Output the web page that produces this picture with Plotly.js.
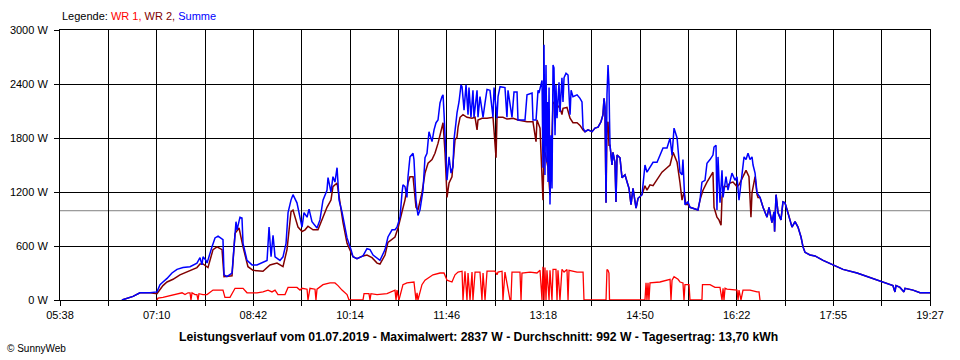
<!DOCTYPE html>
<html>
<head>
<meta charset="utf-8">
<script src="https://cdn.plot.ly/plotly-3.0.1.min.js"></script>
<style>html,body{margin:0;padding:0;background:#fff;}#chart{width:960px;height:360px;}</style>
</head>
<body>
<div id="chart"></div>
<script>
// Time axis: minutes since midnight. Tick labels (every second grid line is labelled).
const xTickLabels = ['05:38','07:10','08:42','10:14','11:46','13:18','14:50','16:22','17:55','19:27'];
const yTickValues = [0, 600, 1200, 1800, 2400, 3000];
const yTickLabels = ['0 W','600 W','1200 W','1800 W','2400 W','3000 W'];
const avgW = 992;   // Durchschnitt

// Summe (blue)
const sumT = [397,407.6,414.2,423.8,430.4,433.3,436.1,440.0,444.7,449.5,455.2,461.9,468.5,471.4,473.3,474.3,477.1,478.1,482.8,485.7,488.6,493.3,494.3,497.1,501.9,503.8,505.7,506.7,509.5,511.4,512.4,516.2,521.0,525.7,531.4,535.3,537.2,539.1,541.0,542.9,547.6,550.5,553.4,555.3,558.1,560.0,563.8,566.7,568.6,570.5,573.4,575.3,578.1,582.9,585.7,588.6,592.4,593.4,596.2,598.1,600.0,602.0,603.9,606.7,609.6,611.5,615.3,617.2,621.0,626.7,630.5,633.4,636.3,642.9,647.7,650.5,654.4,657.2,659.1,662.0,663.9,664.8,666.7,668.6,669.6,671.5,674.4,675.3,677.2,679.1,681.0,683.9,685.8,687.7,689.6,691.5,692.5,694.4,696.3,698.2,700.1,702.0,703.0,703.9,705.8,706.8,708.7,710.6,712.5,713.4,715.3,716.3,718.2,720.1,721.1,723.0,724.9,726.8,727.7,729.6,731.5,732.5,735.4,736.3,738.2,741.1,743.0,744.9,747.7,750.6,751.6,754.4,755.4,757.3,762.0,763.9,764.9,768.7,770.6,773.5,774.4,781.1,783.0,787.8,788.7,791.6,793.5,794.4,797.3,798.2,799.2,800.1,801.1,802.0,802.5,803.0,804.0,804.9,805.9,806.8,807.8,808.7,809.7,810.6,811.6,813.5,814.4,816.3,817.3,818.3,820.2,822.1,824.0,825.0,826.8,830.7,833.5,835.4,836.4,838.3,841.1,845.0,847.8,850.7,853.5,855.4,856.4,857.3,858.3,859.2,860.2,861.1,861.6,862.1,864.0,864.9,866.8,867.8,868.8,871.6,873.5,876.4,878.3,880.2,882.1,884.0,886.9,888.8,892.6,895.4,897.3,900.2,903.1,906.9,909.7,912.6,916.4,919.3,921.2,923.1,926.0,926.9,928.8,930.7,931.6,933.5,936.4,938.3,941.2,945.9,947.8,949.7,952.6,954.5,957.4,960.2,961.2,963.1,964.0,965.0,966.9,968.8,969.8,972.6,974.5,978.3,981.2,983.1,985.0,987.9,989.8,991.7,993.6,995.5,997.4,998.4,1000.3,1002.2,1005.0,1007.9,1011.7,1013.6,1016.4,1018.4,1018.9,1020.3,1022.2,1025.0,1026.9,1028.8,1031.7,1035.5,1038.4,1041.2,1044.1,1046.0,1047.9,1052.7,1057.4,1065.1,1074.6,1084.1,1097.5,1107.0,1121.3,1131.7,1133.6,1134.6,1138.4,1142.2,1143.2,1150.8,1157.5,1167.0];
const sumW = [0,40,80,80,90,170,200,240,300,340,360,370,410,470,390,480,440,410,590,690,710,670,280,260,300,560,870,780,920,910,630,440,390,390,420,440,810,480,720,480,440,480,630,970,1110,1170,1080,890,810,970,920,1010,870,800,890,1110,1220,1360,1200,1370,1310,1470,1110,980,780,690,560,480,460,490,570,560,500,440,560,700,780,780,810,920,1190,1280,1260,1140,1370,1590,1630,1560,1110,940,1000,1220,1580,1630,1870,1810,1760,1890,1970,2000,2190,2260,2280,2080,1670,1330,1590,1410,1480,1780,1970,2080,2200,2390,2370,2110,2390,2060,2360,2030,2330,2030,2330,2030,2260,2030,2190,2340,2330,2030,2360,2020,2260,2370,2360,2030,2330,2030,2310,2310,2000,2000,2280,2300,2000,2000,2330,2300,2440,1470,2837,1390,2610,1530,2200,1310,2360,1060,1830,1240,2610,2580,1830,2390,2020,2420,2090,2470,2200,2470,2520,2500,2060,2330,2260,2280,2240,2200,1910,1870,1890,1870,1910,1920,1980,2060,2240,2140,1080,2280,2610,2390,2020,1720,1500,1640,1530,1090,1610,1580,1360,1390,1310,1240,1060,1240,1020,1130,1170,1500,1420,1470,1530,1530,1610,1690,1690,1800,1610,1910,1800,1640,1420,1390,1560,1060,1090,1030,1020,1000,1110,1310,1330,1520,1560,1610,1700,1720,1000,1590,1080,1440,1140,1370,1220,1410,1330,1370,1110,1440,1590,1560,1630,1560,1590,1500,1410,1190,1140,1030,920,1030,860,980,760,1170,970,890,1090,1080,970,810,870,810,700,590,530,500,490,440,390,340,300,260,200,160,90,160,140,90,130,110,80,80];

// WR 2 (dark red)
const wr2T = [397,407.6,414.2,423.8,430.4,433.3,436.1,440.0,445.7,452.3,461.9,468.5,471.4,474.3,479.0,483.8,487.6,492.4,494.3,501.9,504.8,508.6,512.4,517.1,521.9,531.4,538.1,544.8,550.5,554.3,558.1,560.0,564.8,568.6,571.5,574.3,579.1,583.8,588.6,592.4,596.2,598.1,602.0,604.8,607.7,611.5,615.3,617.2,621.0,626.7,630.5,635.3,640.1,642.9,647.7,650.5,657.2,660.1,663.9,666.7,669.6,671.5,674.4,677.2,679.1,682.9,685.8,688.7,692.5,695.3,698.2,702.0,703.0,704.9,706.8,708.7,711.5,712.5,714.4,716.3,717.3,719.2,722.0,725.8,730.6,733.5,735.4,736.3,740.1,744.9,750.6,753.5,754.4,760.1,763.9,769.7,774.4,783.0,788.7,791.6,792.5,795.4,798.2,799.2,800.1,803.0,804.9,807.8,811.6,814.4,816.3,817.3,821.1,824.0,826.8,830.7,833.5,836.4,838.3,841.1,845.0,847.8,850.7,853.5,855.4,856.4,857.3,858.3,859.2,860.2,861.1,862.1,864.0,864.9,866.8,867.8,868.8,871.6,873.5,876.4,878.3,880.2,882.1,884.0,886.9,888.8,892.6,895.4,897.3,900.2,903.1,907.9,911.6,916.4,919.3,922.2,926.0,928.8,930.7,932.6,934.5,936.4,938.3,941.2,945.9,947.8,950.7,954.5,957.4,960.2,961.2,964.0,965.9,967.9,968.8,970.7,973.6,976.4,979.3,983.1,985.0,988.8,991.7,994.5,996.4,997.4,1000.3,1002.2,1003.1,1005.0,1007.9,1011.7,1013.6,1016.4,1018.4,1018.9,1020.3,1022.2,1025.0,1026.9,1028.8,1031.7,1035.5,1038.4,1041.2,1044.1,1046.0,1047.9,1052.7,1057.4,1065.1,1074.6,1084.1,1097.5,1107.0,1121.3,1131.7,1133.6,1134.6,1138.4,1142.2,1143.2,1150.8,1157.5,1167.0];
const wr2W = [0,40,80,80,70,120,160,200,230,280,330,360,400,400,360,560,590,560,260,270,740,800,590,370,330,320,390,410,370,560,980,1000,810,760,780,820,780,780,920,1030,1110,1260,1300,1060,860,630,540,480,460,490,500,470,410,400,500,640,700,800,980,1110,1300,1370,1370,1030,1000,1190,1410,1520,1560,1630,1740,1920,1970,1630,1140,1300,1370,1520,1780,1810,1920,2030,2060,2030,2020,2030,1890,2000,2020,2020,2030,1580,2030,2030,2010,2020,2000,1980,1980,1760,2000,1910,1110,1630,1640,1470,1170,2200,2170,2130,2060,2130,2140,2020,1970,1970,1940,1890,1870,1890,1870,1910,1920,1980,2060,2240,2140,1080,1940,1980,1720,1720,1500,1640,1530,1090,1610,1580,1360,1390,1310,1240,1060,1240,1020,1130,1170,1270,1220,1280,1270,1360,1420,1470,1500,1640,1530,1300,1110,1200,1060,1060,1030,1020,1000,1110,1220,1310,1370,1420,1030,920,890,830,1140,1260,1260,1300,1310,1260,1280,1370,1440,1370,920,1190,1370,1170,1140,1140,1030,920,1030,860,980,760,1170,970,890,1090,1080,970,810,870,810,700,590,530,500,490,440,390,340,300,260,200,160,90,160,140,90,130,110,80,80];

// WR 1 (red)
const wr1T = [430.4,431.4,436.1,440.0,445.7,454.3,457.1,460.0,461.9,462.8,463.8,466.6,468.5,469.5,470.4,474.3,478.1,480.9,483.8,493.3,495.2,500.0,502.9,504.8,512.4,516.2,525.7,531.4,536.2,540.0,542.9,545.7,552.4,555.3,563.8,566.7,568.6,573.4,574.3,576.2,581.0,581.9,582.9,588.6,595.3,600.0,602.9,606.7,611.5,613.4,626.7,627.7,632.4,633.4,634.3,640.1,649.6,654.4,657.2,658.2,659.1,661.0,664.8,668.6,675.3,677.2,678.2,679.1,682.9,685.8,690.6,693.4,700.1,703.9,706.8,711.5,714.4,717.3,721.1,722.0,723.9,725.8,726.8,728.7,730.6,731.5,733.5,738.2,740.1,741.1,743.0,744.9,752.5,754.4,755.4,759.2,760.1,762.0,766.8,767.7,768.7,776.3,777.3,778.2,785.9,792.5,795.4,797.3,798.2,799.2,800.1,801.1,802.0,804.0,804.9,806.8,807.8,810.6,811.6,812.5,814.4,816.3,818.3,821.1,822.1,823.0,830.7,836.4,837.3,858.3,859.2,860.2,861.1,861.6,895.4,896.4,897.3,898.3,899.2,900.2,909.7,916.4,919.3,920.2,921.2,923.1,926.9,928.8,931.6,932.6,933.5,937.4,938.3,949.7,950.2,957.4,962.1,966.9,968.8,969.8,970.7,971.7,973.6,983.1,984.1,985.0,986.9,988.8,995.5,1002.2,1004.1,1005.0];
const wr1W = [0,20,30,40,60,80,60,80,80,0,80,60,60,0,70,60,60,80,110,110,30,30,90,130,130,80,80,90,110,90,110,60,60,140,140,110,130,120,0,130,120,0,120,170,190,190,160,110,60,0,0,70,70,0,70,60,70,90,110,0,110,0,170,190,200,0,80,0,170,220,260,280,300,300,220,200,280,310,320,0,320,0,300,0,310,0,310,310,0,300,0,320,320,280,310,320,0,310,0,0,310,310,0,300,310,300,330,0,370,0,360,0,330,0,330,0,340,340,0,330,0,340,310,340,0,330,310,310,0,0,340,330,300,0,0,190,0,190,0,190,200,220,230,0,220,260,230,200,190,0,170,170,0,0,170,170,140,140,0,130,0,130,120,110,0,110,0,110,110,90,90,0];

const xLabelMin = xTickLabels.map(s => { const p = s.split(':'); return (+p[0]) * 60 + (+p[1]); });
const xFirst = xLabelMin[0], xLast = xLabelMin[xLabelMin.length - 1];
const step = (xLast - xFirst) / (2 * (xLabelMin.length - 1));
const xGridVals = [], xGridText = [];
for (let i = 0; i <= 2 * (xLabelMin.length - 1); i++) {
  xGridVals.push(xFirst + i * step);
  xGridText.push(i % 2 === 0 ? xTickLabels[i / 2] : '');
}

const FONT = 'Liberation Sans, Arial, sans-serif';
const traces = [
  {x: wr1T, y: wr1W, type: 'scatter', mode: 'lines', line: {color: '#ff0000', width: 1.3}, name: 'WR 1', hoverinfo: 'skip'},
  {x: wr2T, y: wr2W, type: 'scatter', mode: 'lines', line: {color: '#800000', width: 1.5}, name: 'WR 2', hoverinfo: 'skip'},
  {x: sumT, y: sumW, type: 'scatter', mode: 'lines', line: {color: '#0000ff', width: 1.5}, name: 'Summe', hoverinfo: 'skip'}
];

const layout = {
  width: 960, height: 360,
  margin: {l: 60, r: 30, t: 30, b: 60, pad: 0},
  paper_bgcolor: '#ffffff', plot_bgcolor: '#ffffff',
  showlegend: false,
  font: {family: FONT, size: 11, color: '#000'},
  xaxis: {
    range: [xFirst, xLast], tickmode: 'array', tickvals: xGridVals, ticktext: xGridText,
    showgrid: true, gridcolor: '#000', gridwidth: 1, zeroline: false,
    ticks: 'outside', ticklen: 5, tickcolor: '#000', tickwidth: 1,
    showline: true, linecolor: '#000', linewidth: 1, mirror: true,
    tickfont: {family: FONT, size: 11, color: '#000'}, fixedrange: true
  },
  yaxis: {
    range: [0, 3000], tickmode: 'array', tickvals: yTickValues, ticktext: yTickLabels,
    showgrid: true, gridcolor: '#000', gridwidth: 1, zeroline: false,
    ticks: 'outside', ticklen: 5, tickcolor: '#000', tickwidth: 1, ticklabelstandoff: 4,
    showline: true, linecolor: '#000', linewidth: 1, mirror: true,
    tickfont: {family: FONT, size: 11, color: '#000'}, fixedrange: true
  },
  shapes: [
    {type: 'line', xref: 'paper', x0: 0, x1: 1, yref: 'y', y0: avgW, y1: avgW, line: {color: '#808080', width: 1}, layer: 'below'}
  ],
  annotations: [
    {xref: 'paper', yref: 'paper', x: 0, y: 1.05, xanchor: 'left', yanchor: 'middle', showarrow: false,
     font: {family: FONT, size: 11, color: '#000'},
     text: 'Legende: <span style="color:#ff0000">WR 1,</span> <span style="color:#800000">WR 2,</span> <span style="color:#0000ff">Summe</span>'},
    {xref: 'paper', yref: 'paper', x: 0.4816, y: -0.137, xanchor: 'center', yanchor: 'middle', showarrow: false,
     font: {family: FONT, size: 12.2, color: '#000'},
     text: '<b>Leistungsverlauf vom 01.07.2019 - Maximalwert: 2837 W - Durchschnitt: 992 W - Tagesertrag: 13,70 kWh</b>'},
    {xref: 'paper', yref: 'paper', x: -0.0632, y: -0.181, xanchor: 'left', yanchor: 'middle', showarrow: false,
     font: {family: FONT, size: 10, color: '#000'},
     text: '© SunnyWeb'}
  ]
};

Plotly.newPlot('chart', traces, layout, {staticPlot: true, displayModeBar: false});
</script>
</body>
</html>
